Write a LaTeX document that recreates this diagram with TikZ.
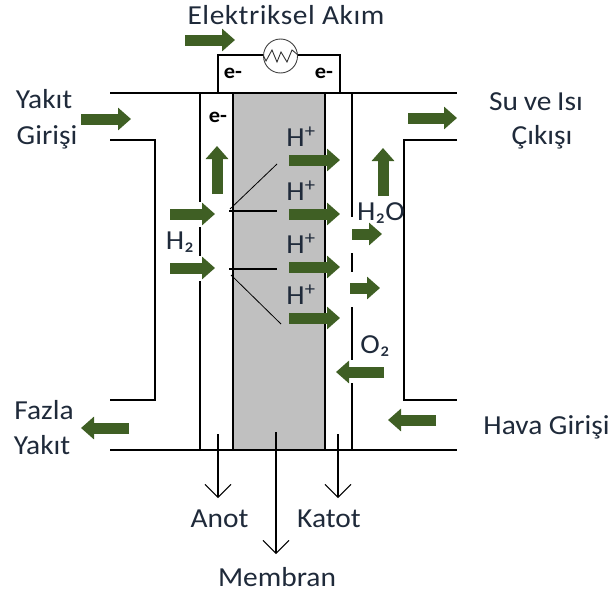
\documentclass[tikz,border=0pt]{standalone}
\usepackage{fontspec}
\setmainfont[FakeStretch=1.07]{Carlito}
\usetikzlibrary{arrows.meta}
\definecolor{arrowgreen}{HTML}{3F5F24}
\definecolor{membgray}{HTML}{C0C0C0}
\definecolor{labelink}{HTML}{1F2A3A}
\tikzset{
  wall/.style={draw=black,line width=1.2pt},
  thinline/.style={draw=black,line width=0.8pt},
  blockarrow/.style={draw=arrowgreen,line width=11pt,-{Triangle[length=13pt,width=22pt]}},
  leader/.style={draw=black,line width=1.1pt,-{Straight Barb[length=13pt,width=26pt,line width=0.9pt]}},
  label/.style={inner sep=0pt,font=\fontsize{27.5}{30}\selectfont,text=labelink},
  smalle/.style={inner sep=0pt,font=\fontsize{21}{24}\selectfont\bfseries,text=black}
}
\begin{document}
\begin{tikzpicture}[x=1pt,y=-1pt]
\useasboundingbox (0,0) rectangle (612,597);
\fill[membgray] (233,93) rectangle (325,450);
% plates
\draw[wall] (110,93) -- (457,93);
\draw[wall] (110,450) -- (457,450);
\draw[wall] (233,93) -- (233,450);
\draw[wall] (325,93) -- (325,450);
% anode wall
\draw[wall] (200,93) -- (200,202) (200,227) -- (200,256) (200,281) -- (200,450);
% cathode wall
\draw[wall] (352,93) -- (352,217) (352,253) -- (352,272) (352,307) -- (352,360) (352,383) -- (352,450);
% channels
\draw[wall] (110,140) -- (155,140) -- (155,400) -- (110,400);
\draw[wall] (457,140) -- (404,140) -- (404,400) -- (457,400);
% circuit
\coordinate (resL) at (263,55);
\coordinate (resR) at (298,55);
\draw[wall] (218,93) -- (218,55) -- (resL);
\draw[wall] (resR) -- (340,55) -- (340,93);
\draw[draw=black!75,line width=0.9pt] (280.5,56) circle (17);
\draw[draw=black!80,line width=0.9pt] (resL) -- (266,61) -- (272,50) -- (277,62) -- (281,52) -- (287,62) -- (292,50) -- (resR);
% catalyst lines
\draw[thinline] (230,209) -- (277,164);
\draw[wall] (229,211) -- (277,211);
\draw[wall] (229,269) -- (277,269);
\draw[thinline] (231,275) -- (281,324);
% block arrows
\foreach \xa/\ya/\xb/\yb in {
 185/40/235/40, 81/119/131/119, 408/118/457/118,
 217/194/217/146, 383/196/383/148,
 289/160/340/160, 289/214/340/214, 289/267/340/267, 289/318/340/318,
 170/214/215/214, 170/268/215/268,
 352/234/382/234, 350/288/380/288,
 384/372/336/372, 436/420/388/420, 129/428/81/428}
  \draw[blockarrow] (\xa,\ya) -- (\xb,\yb);
% labels
\node[label] (elec) at (286,15) {\addfontfeature{LetterSpace=2}Elektriksel Akım};
\node[label] (yakit1) at (44,99) {Yakıt};
\node[label] (giris) at (47,137) {Girişi};
\node[label] (su) at (536,102) {Su\hspace{-1pt} ve\hspace{-1pt} Isı};
\node[label] (cikis) at (542,137) {Çıkışı};
\node[label] (fazla) at (44,410) {Fazla};
\node[label] (yakit2) at (42,445) {Yakıt};
\node[label] (hava) at (546.5,427) {Hava Girişi};
\node[label] (anot) at (219.5,519) {Anot};
\node[label] (katot) at (329,519) {Katot};
\node[label] (membran) at (277,577) {Membran};
\node[label] (h2) at (180,242) {H₂};
\node[label] (h2o) at (381,213) {H₂O};
\node[label] (o2) at (375,346) {O₂};
\node[label] (hp1) at (301,137) {H\textsuperscript{+}};
\node[label] (hp2) at (301,191) {H\textsuperscript{+}};
\node[label] (hp3) at (301,244) {H\textsuperscript{+}};
\node[label] (hp4) at (301,295) {H\textsuperscript{+}};
\node[smalle] (e1) at (233,73) {e-};
\node[smalle] (e2) at (324,73) {e-};
\node[smalle] (e3) at (218,117) {e-};
% leaders
\coordinate (anotTop) at (218,434);
\coordinate (anotEnd) at (218,498);
\coordinate (membTop) at (276,432);
\coordinate (membEnd) at (276,554);
\coordinate (katotTop) at (338,434);
\coordinate (katotEnd) at (338,498);
\draw[leader] (anotTop) -- (anotEnd);
\draw[leader] (membTop) -- (membEnd);
\draw[leader] (katotTop) -- (katotEnd);
\end{tikzpicture}
\end{document}
